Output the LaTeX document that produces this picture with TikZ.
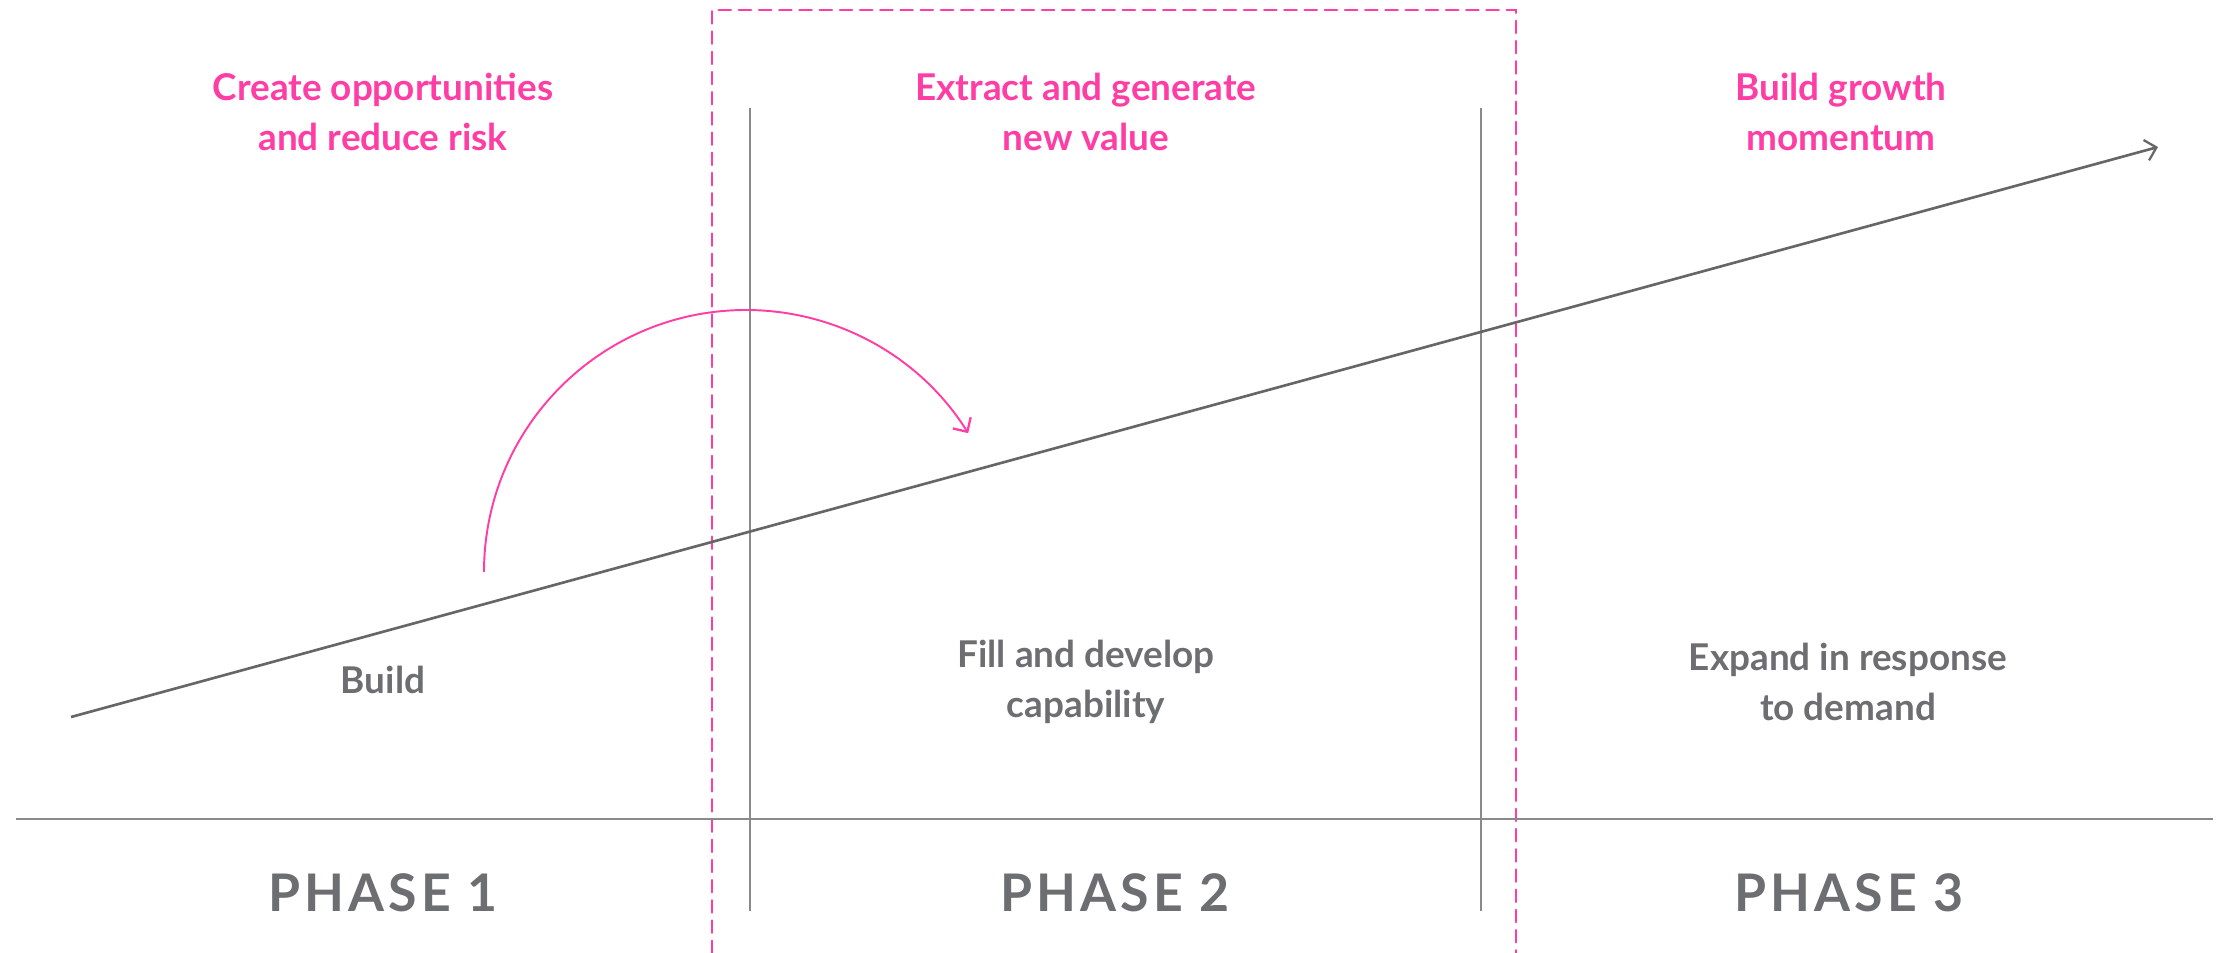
\documentclass[tikz,border=0pt]{standalone}
\usepackage{fontspec}
\setmainfont{Lato}
\usetikzlibrary{arrows.meta}
\definecolor{hotpink}{HTML}{FF3EA5}
\definecolor{textgrey}{HTML}{6D6E71}
\definecolor{linegrey}{HTML}{666666}
\definecolor{rulegrey}{HTML}{8A8A8A}

\begin{document}
\begin{tikzpicture}[x=0.02cm,y=-0.02cm,
	focus/.style={draw=hotpink,line width=1.4pt,dash pattern=on 7pt off 4.5pt,line cap=round},
	divider/.style={draw=rulegrey,line width=0.6pt},
	growth/.style={draw=linegrey,line width=1.5pt,-{Straight Barb[length=6pt,width=12pt,line width=1.3pt]}},
	jump/.style={draw=hotpink,line width=1.1pt,-{Straight Barb[length=6pt,width=12pt,line width=1.3pt]}},
	goal/.style={text=hotpink,font=\fontsize{21}{28.2}\selectfont\bfseries,align=center},
	task/.style={text=textgrey,font=\fontsize{21}{28.2}\selectfont\bfseries,align=center},
	phase/.style={text=textgrey,font=\fontsize{29.5}{34}\selectfont\bfseries\addfontfeatures{LetterSpace=8}}]
					\useasboundingbox (0,0) rectangle (2225,953);

					%FRAME
					\coordinate (fA) at (712,953);
					\coordinate (fB) at (712,10);
					\coordinate (fC) at (1516,10);
					\coordinate (fD) at (1516,953);
					\draw[focus] (fA) -- (fB) -- (fC) -- (fD);

					%DIVIDERS
					\coordinate (d1top) at (750,108);
					\coordinate (d1bot) at (750,911);
					\coordinate (d2top) at (1481,108);
					\coordinate (d2bot) at (1481,911);
					\draw[divider] (d1top) -- (d1bot);
					\draw[divider] (d2top) -- (d2bot);
					\coordinate (baseL) at (16,819);
					\coordinate (baseR) at (2213,819);
					\draw[draw=rulegrey,line width=0.9pt] (baseL) -- (baseR);

					%GROWTH
					\coordinate (start) at (71,717);
					\coordinate (finish) at (2158,147);
					\draw[growth] (start) -- (finish);
					\coordinate (leap) at (484,572);
					\draw[jump] (leap) arc[start angle=180,end angle=328,radius=262];

					%LABELS
					\node[goal] (goal1) at (383,112) {Create opportunities\\and reduce risk};
					\node[goal] (goal2) at (1086,112) {Extract and generate\\new value};
					\node[goal] (goal3) at (1841,112) {Build growth\\momentum};
					\node[task] (task1) at (383,680) {Build};
					\node[task] (task2) at (1086,682) {Fill and develop\\capability};
					\node[task] (task3) at (1848,682) {Expand in response\\to demand};
					\node[phase] (phase1) at (383,893) {PHASE 1};
					\node[phase] (phase2) at (1115,893) {PHASE 2};
					\node[phase] (phase3) at (1849,893) {PHASE 3};
\end{tikzpicture}
\end{document}
